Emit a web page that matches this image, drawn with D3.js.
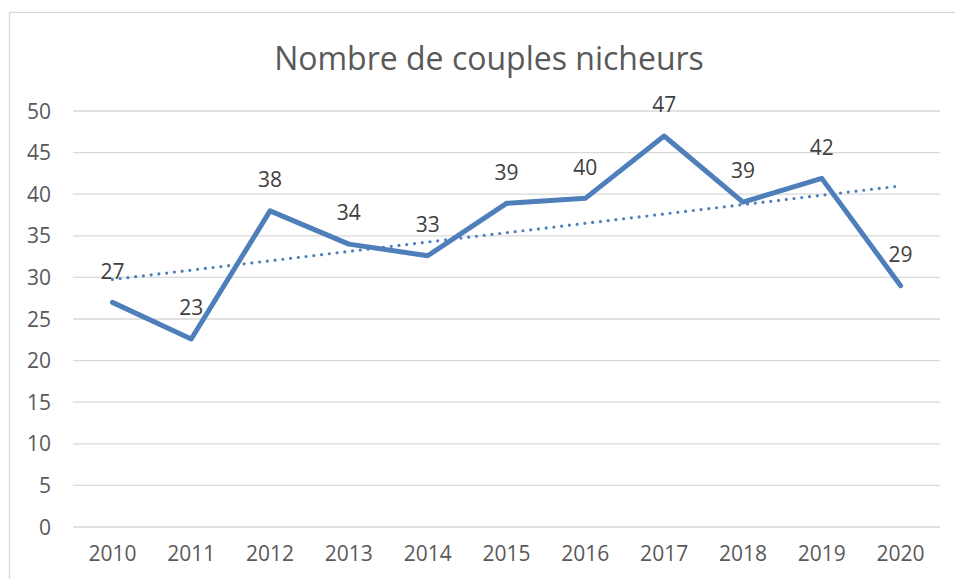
<!DOCTYPE html>
<meta charset="utf-8">
<head>
	<script src="https://d3js.org/d3.v7.min.js"></script>
</head>
<style>
	body {
		margin: 0;
		background: #fff;
	}
	text {
		font-family: "Open Sans", sans-serif;
	}
	.title {
		font-size: 32px;
		fill: #595959;
	}
	.axis text {
		font-size: 21px;
		fill: #595959;
	}
	.axis path, .axis line {
		display: none;
	}
	.grid line {
		stroke: #d9d9d9;
		stroke-width: 1.3px;
	}
	.valueLabel {
		font-size: 21px;
		fill: #404040;
	}
	#couplesPath {
		fill: none;
		stroke: #4e7fbb;
		stroke-width: 5px;
		stroke-linejoin: round;
		stroke-linecap: round;
	}
	#trendPath {
		fill: none;
		stroke: #4e7fbb;
		stroke-width: 3.2px;
		stroke-linecap: round;
		stroke-dasharray: 0 7.8;
	}
</style>
<body>
<div id="container"></div>
<script>
	// data
	var years = ["2010", "2011", "2012", "2013", "2014", "2015", "2016", "2017", "2018", "2019", "2020"];
	var couples = [27, 22.6, 38, 34, 32.6, 38.9, 39.5, 47, 39.05, 41.9, 29];
	var couplesLabels = ["27", "23", "38", "34", "33", "39", "40", "47", "39", "42", "29"];
	// linear trendline, end points as drawn
	var trendYears = ["2010", "2020"];
	var trendValues = [29.75, 41.0];
	var yTicks = [0, 5, 10, 15, 20, 25, 30, 35, 40, 45, 50];

	var width = 955,
	    height = 579;

	var svg = d3.select("#container")
		.append("svg")
		.attr("width", width)
		.attr("height", height);

	// chart frame
	svg.append("rect")
		.attr("x", 9.5)
		.attr("y", 12.5)
		.attr("width", 1200)
		.attr("height", 1200)
		.attr("fill", "none")
		.attr("stroke", "#d9d9d9")
		.attr("stroke-width", 1.3);

	svg.append("text")
		.attr("class", "title")
		.attr("x", 489)
		.attr("y", 70)
		.attr("text-anchor", "middle")
		.text("Nombre de couples nicheurs");

	var plotLeft = 73,
	    plotRight = 940,
	    plotTop = 111,
	    plotBottom = 527;

	var x = d3.scaleBand()
		.domain(years)
		.range([plotLeft, plotRight]);

	var y = d3.scaleLinear()
		.domain([0, 50])
		.range([plotBottom, plotTop]);

	var cx = function(d) { return x(d) + x.bandwidth() / 2; };

	// gridlines
	svg.append("g")
		.attr("class", "grid")
		.selectAll("line")
		.data(yTicks)
		.enter().append("line")
		.attr("x1", plotLeft)
		.attr("x2", plotRight)
		.attr("y1", function(d) { return y(d); })
		.attr("y2", function(d) { return y(d); });

	// axes
	svg.append("g")
		.attr("class", "axis")
		.attr("transform", "translate(" + (plotLeft - 12) + ",0)")
		.call(d3.axisLeft(y).tickValues(yTicks).tickSize(0).tickPadding(10))
		.selectAll("text").attr("dy", "0.34em");

	svg.append("g")
		.attr("class", "axis")
		.attr("transform", "translate(0," + plotBottom + ")")
		.call(d3.axisBottom(x).tickSize(0).tickPadding(19));

	// trendline
	var trendLine = d3.line()
		.x(function(d, i) { return cx(trendYears[i]); })
		.y(function(d) { return y(d); });

	svg.append("path")
		.attr("id", "trendPath")
		.attr("d", trendLine(trendValues));

	// main series
	var couplesLine = d3.line()
		.x(function(d, i) { return cx(years[i]); })
		.y(function(d) { return y(d); });

	svg.append("path")
		.attr("id", "couplesPath")
		.attr("d", couplesLine(couples));

	// data labels
	svg.append("g")
		.selectAll("text")
		.data(couples)
		.enter().append("text")
		.attr("class", "valueLabel")
		.attr("text-anchor", "middle")
		.attr("x", function(d, i) { return cx(years[i]); })
		.attr("y", function(d) { return y(d) - 31; })
		.attr("dy", "0.35em")
		.text(function(d, i) { return couplesLabels[i]; });
</script>
</body>
